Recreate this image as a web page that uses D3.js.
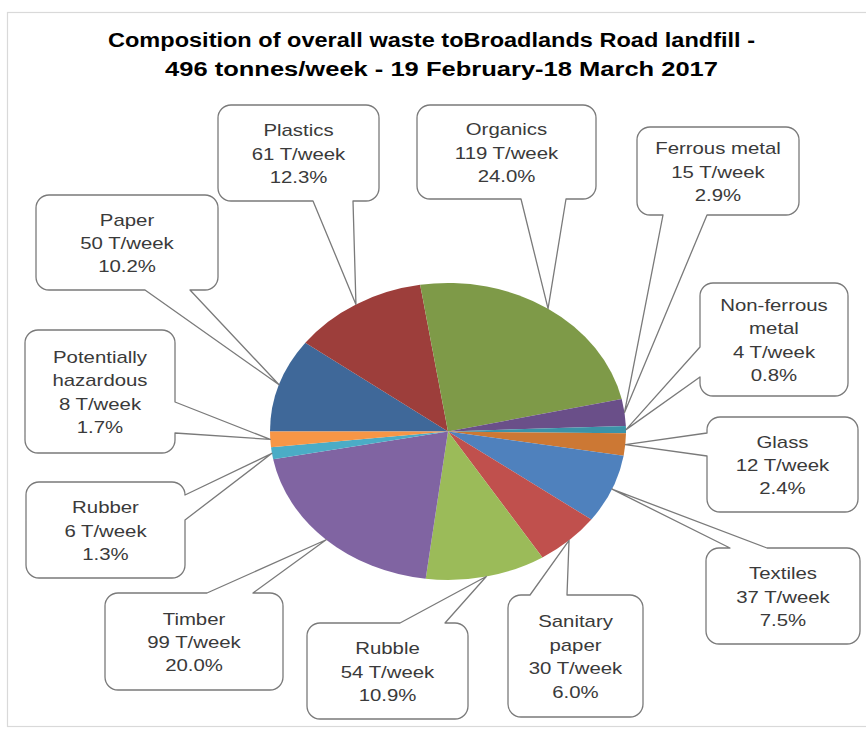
<!DOCTYPE html>
<html>
<head>
<meta charset="utf-8">
<script src="https://cdn.jsdelivr.net/npm/d3@7"></script>
<style>
  html, body { margin: 0; padding: 0; background: #fff; }
  svg { display: block; }
</style>
</head>
<body>
<div id="chart"></div>
<script>
// data, clockwise from 9 o'clock
const categories = ['Paper', 'Plastics', 'Organics', 'Ferrous metal', 'Non-ferrous metal', 'Glass',
  'Textiles', 'Sanitary paper', 'Rubble', 'Timber', 'Rubber', 'Potentially hazardous']
const labelLines = [['Paper'], ['Plastics'], ['Organics'], ['Ferrous metal'], ['Non-ferrous', 'metal'], ['Glass'],
  ['Textiles'], ['Sanitary', 'paper'], ['Rubble'], ['Timber'], ['Rubber'], ['Potentially', 'hazardous']]
const tonnesPerWeek = [50, 61, 119, 15, 4, 12, 37, 30, 54, 99, 6, 8]
const percentShare = [10.2, 12.3, 24.0, 2.9, 0.8, 2.4, 7.5, 6.0, 10.9, 20.0, 1.3, 1.7]
const sliceColors = ['#3f6899', '#9d3e3b', '#7e9a48', '#6a4f89', '#3b93a8', '#cc7834',
  '#4f81bd', '#c0504d', '#9bbb59', '#8064a2', '#4bacc6', '#f79646']
const titleLines = ['Composition of overall waste toBroadlands Road landfill -',
  '496 tonnes/week - 19 February-18 March 2017']

// callout box layout: box edges, side of the tail and where the tail leaves the box
const calloutBoxes = [
  { x0: 36, y0: 195, x1: 218, y1: 290, side: 'bottom', b: [145, 190] },
  { x0: 218, y0: 105, x1: 379, y1: 201, side: 'bottom', b: [313, 353] },
  { x0: 417, y0: 105, x1: 596, y1: 199, side: 'bottom', b: [521, 566] },
  { x0: 637, y0: 127, x1: 799, y1: 215, side: 'bottom', b: [663, 707] },
  { x0: 700, y0: 283, x1: 848, y1: 396, side: 'left', b: [347, 377] },
  { x0: 707, y0: 417, x1: 858, y1: 512, side: 'left', b: [433, 456] },
  { x0: 706, y0: 548, x1: 860, y1: 644, side: 'top', b: [730, 767] },
  { x0: 508, y0: 595, x1: 643, y1: 717, side: 'top', b: [530, 567] },
  { x0: 307, y0: 623, x1: 468, y1: 719, side: 'top', b: [400, 445] },
  { x0: 105, y0: 593, x1: 283, y1: 690, side: 'top', b: [207, 253] },
  { x0: 26, y0: 482, x1: 185, y1: 578, side: 'right', b: [495, 520] },
  { x0: 25, y0: 330, x1: 175, y1: 453, side: 'right', b: [402, 433] }
]

const width = 866, height = 729
const cx = 448, cy = 431.5
const ry = 148.5, rx = 178
const stretch = rx / ry // the whole picture is wider than tall
const corner = 13
const lineGap = 23.5

const svg = d3.select('#chart').append('svg')
  .attr('width', width).attr('height', height)

// chart frame
svg.append('rect')
  .attr('x', 7.5).attr('y', 12.5)
  .attr('width', 900).attr('height', 714)
  .attr('fill', '#fff')
  .attr('stroke', '#d9d9d9').attr('stroke-width', 1.2)

// title
svg.append('g').selectAll('text')
  .data(titleLines)
  .join('text')
  .attr('x', (d, i) => i === 0 ? 108 : 165)
  .attr('y', (d, i) => 47 + i * 29)
  .attr('textLength', (d, i) => i === 0 ? 647 : 553)
  .attr('lengthAdjust', 'spacingAndGlyphs')
  .attr('font-family', '"Liberation Sans", Arial, sans-serif')
  .attr('font-weight', 'bold')
  .attr('font-size', 20)
  .attr('fill', '#000')
  .text(d => d)

const rows = categories.map((name, i) => ({
  name,
  lines: labelLines[i],
  tonnes: tonnesPerWeek[i],
  pct: percentShare[i],
  color: sliceColors[i],
  box: calloutBoxes[i]
}))

const pie = d3.pie()
  .sort(null)
  .value(d => d.pct)
  .startAngle(-Math.PI / 2)
  .endAngle(Math.PI * 1.5)

const arcs = pie(rows)

const arc = d3.arc().innerRadius(0).outerRadius(ry)
const edgeArc = d3.arc().innerRadius(ry).outerRadius(ry)

/** 饼图 */
const pieGroup = svg.append('g')
  .attr('transform', `translate(${cx}, ${cy}) scale(${stretch}, 1)`)

pieGroup.selectAll('path')
  .data(arcs)
  .join('path')
  .attr('d', arc)
  .attr('fill', d => d.data.color)

// tail tip sits on the rim at the slice's middle angle
function tipOf(d) {
  const [px, py] = edgeArc.centroid(d)
  return [cx + px * stretch, cy + py]
}

function calloutPath(b, tip) {
  const { x0, y0, x1, y1, side } = b
  const r = corner
  const p = d3.path()
  const bs = b.b.slice().sort((a, c) => a - c)
  p.moveTo(x0 + r, y0)
  if (side === 'top') {
    p.lineTo(bs[0], y0); p.lineTo(tip[0], tip[1]); p.lineTo(bs[1], y0)
  }
  p.arcTo(x1, y0, x1, y0 + r, r)
  if (side === 'right') {
    p.lineTo(x1, bs[0]); p.lineTo(tip[0], tip[1]); p.lineTo(x1, bs[1])
  }
  p.arcTo(x1, y1, x1 - r, y1, r)
  if (side === 'bottom') {
    p.lineTo(bs[1], y1); p.lineTo(tip[0], tip[1]); p.lineTo(bs[0], y1)
  }
  p.arcTo(x0, y1, x0, y1 - r, r)
  if (side === 'left') {
    p.lineTo(x0, bs[1]); p.lineTo(tip[0], tip[1]); p.lineTo(x0, bs[0])
  }
  p.arcTo(x0, y0, x0 + r, y0, r)
  p.closePath()
  return p.toString()
}

/** 标注框 */
const callouts = svg.append('g').selectAll('g')
  .data(arcs)
  .join('g')

callouts.append('path')
  .attr('d', d => calloutPath(d.data.box, tipOf(d)))
  .attr('fill', '#fff')
  .attr('stroke', '#7a7a7a')
  .attr('stroke-width', 1.3)
  .attr('stroke-linejoin', 'round')

callouts.each(function (d) {
  const b = d.data.box
  const lines = d.data.lines.concat([`${d.data.tonnes} T/week`, `${d.data.pct.toFixed(1)}%`])
  const mx = (b.x0 + b.x1) / 2
  const my = (b.y0 + b.y1) / 2
  const txt = d3.select(this).append('g')
    .attr('transform', `translate(${mx}, ${my}) scale(${stretch}, 1)`)
  txt.selectAll('text')
    .data(lines)
    .join('text')
    .attr('x', 0)
    .attr('y', (t, i) => (i - (lines.length - 1) / 2) * lineGap + 6.5)
    .attr('text-anchor', 'middle')
    .attr('font-family', '"Liberation Sans", Arial, sans-serif')
    .attr('font-size', 17)
    .attr('fill', '#3a3a3a')
    .text(t => t)
})
</script>
</body>
</html>
